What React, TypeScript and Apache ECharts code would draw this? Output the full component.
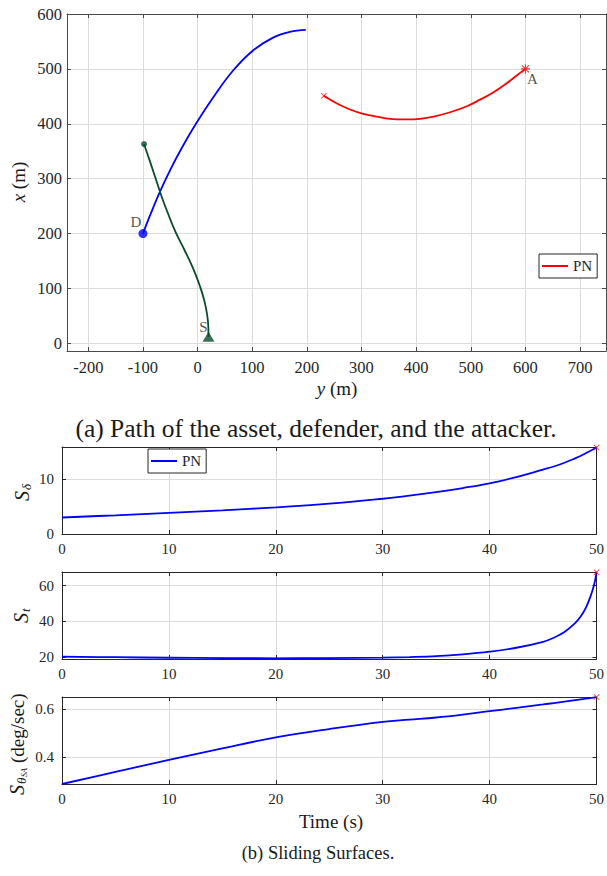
import React, { useEffect, useRef } from 'react';
import * as echarts from 'echarts';

// ---------- Top panel: horizontal axis is y (m), vertical axis is x (m) ----------
const defenderY = [-100, -85, -69, -50, -30, -3, 30, 65, 102, 139, 169, 198];
const defenderX = [200, 238, 276, 316, 354, 400, 450, 497, 534, 557.5, 567.5, 571];
const assetY = [20, 19, 13, 4, -8, -24, -40, -54, -66, -76, -87, -98];
const assetX = [12, 40, 75, 105, 136, 170, 202, 236, 268, 298, 331, 363];
const attackerY = [600, 584, 566, 541, 517, 493, 462, 432, 407, 380, 352, 328, 303, 279, 255, 231];
const attackerX = [500, 488, 474, 457, 444, 432, 421, 413, 409, 408, 409, 413, 418, 426, 437, 451];
const topHTicks = [-200, -100, 0, 100, 200, 300, 400, 500, 600, 700];
const topVTicks = [0, 100, 200, 300, 400, 500, 600];

// ---------- Bottom panels ----------
const time = [0, 5, 10, 15, 20, 25, 30, 32.5, 35, 37.5, 40, 42.5, 45, 46, 47, 48, 48.5, 49, 49.5, 49.8, 50];
const sDelta = [3.0, 3.4, 3.85, 4.3, 4.85, 5.5, 6.4, 6.95, 7.6, 8.35, 9.2, 10.35, 11.7, 12.26, 12.94, 13.74, 14.17, 14.66, 15.17, 15.48, 15.7];
const sT = [20.2, 19.9, 19.6, 19.4, 19.3, 19.4, 19.7, 20.0, 20.5, 21.5, 23.0, 25.2, 28.5, 30.8, 34, 39, 42.5, 47.5, 55, 61, 67.4];
const sTheta = [0.29, 0.34, 0.39, 0.438, 0.483, 0.518, 0.548, 0.557, 0.566, 0.578, 0.592, 0.606, 0.62, 0.626, 0.632, 0.638, 0.641, 0.644, 0.647, 0.649, 0.651];
const timeTicks = [0, 10, 20, 30, 40, 50];
const sDeltaTicks = [0, 10];
const sTTicks = [20, 40, 60];
const sThetaTicks = [0.4, 0.6];

const FONT = '"Liberation Serif", "Times New Roman", serif';
const TXT = '#262626';
const GRIDC = '#dcdcdc';

const zip = (a: number[], b: number[]) => a.map((v, i) => [v, b[i]]);

const CROSS = 'path://M0,1 L1,0 L5,4 L9,0 L10,1 L6,5 L10,9 L9,10 L5,6 L1,10 L0,9 L4,5 Z';
const STAR =
  'path://M4.4,0 L5.6,0 L5.6,10 L4.4,10 Z M0,4.4 L10,4.4 L10,5.6 L0,5.6 Z M0.8,1.6 L1.6,0.8 L9.2,8.4 L8.4,9.2 Z M8.4,0.8 L9.2,1.6 L1.6,9.2 L0.8,8.4 Z';

function axisPair(kind: 'x' | 'y', gridIndex: number, min: number, max: number, ticks: number[], size: number, margin: number, axisColor: string) {
  const base = {
    type: 'value',
    gridIndex,
    min,
    max,
    axisLine: { show: true, onZero: false, lineStyle: { color: axisColor, width: 1 } },
    axisTick: { show: true, inside: true, length: 4, customValues: ticks, lineStyle: { color: axisColor, width: 1 } },
  };
  const main = {
    ...base,
    position: kind === 'x' ? 'bottom' : 'left',
    axisLabel: { show: true, customValues: ticks, margin, fontFamily: FONT, fontSize: size, color: TXT, formatter: (v: number) => String(v) },
    splitLine: { show: true, lineStyle: { color: GRIDC, width: 1 } },
  };
  const other = {
    ...base,
    position: kind === 'x' ? 'top' : 'right',
    axisLabel: { show: false },
    splitLine: { show: false },
  };
  return [main, other];
}

function marker(name: string, xi: number, pt: number[], symbol: string, size: any, color: string, label?: string, offset?: number[]) {
  return {
    type: 'scatter',
    name,
    xAxisIndex: xi,
    yAxisIndex: xi,
    data: [pt],
    symbol,
    symbolSize: size,
    itemStyle: { color },
    clip: false,
    z: 5,
    label: label
      ? { show: true, formatter: label, position: 'inside', offset, fontFamily: FONT, fontSize: 15, color: TXT }
      : { show: false },
  };
}

function lineSeries(name: string, xi: number, data: number[][], color: string, width: number) {
  return {
    type: 'line',
    name,
    xAxisIndex: xi,
    yAxisIndex: xi,
    data,
    smooth: 0.4,
    showSymbol: false,
    symbol: 'none',
    clip: false,
    color,
    lineStyle: { color, width },
    z: 3,
  };
}

function legendOf(name: string, left: number, top: number) {
  return {
    data: [name],
    formatter: () => 'PN',
    left,
    top,
    icon: 'rect',
    itemWidth: 26,
    itemHeight: 2,
    padding: [4, 5, 4, 3],
    borderColor: TXT,
    borderWidth: 1,
    backgroundColor: '#fff',
    selectedMode: false,
    textStyle: { fontFamily: FONT, fontSize: 15, color: TXT, lineHeight: 16 },
  };
}

function rotGroup(x: number, y: number, children: any[]) {
  return { type: 'group', x, y, rotation: Math.PI / 2, children };
}
function t(x: number, y: number, text: string, size: number, italic: boolean, align = 'left') {
  return {
    type: 'text',
    x,
    y,
    style: {
      text,
      fontFamily: FONT,
      fontSize: size,
      fontStyle: italic ? 'italic' : 'normal',
      fill: '#1a1a1a',
      align,
      textAlign: align,
      verticalAlign: 'middle',
      textVerticalAlign: 'middle',
    },
  };
}

function richLabel(x: number, y: number, v: string, rotated: boolean) {
  return {
    type: 'text',
    x,
    y,
    rotation: rotated ? Math.PI / 2 : 0,
    style: {
      text: `{i|${v}} (m)`,
      rich: { i: { fontStyle: 'italic', fontFamily: FONT, fontSize: 19, fill: '#1a1a1a' } },
      fontFamily: FONT,
      fontSize: 19,
      fill: '#1a1a1a',
      align: 'center',
      textAlign: 'center',
      verticalAlign: 'middle',
      textVerticalAlign: 'middle',
    },
  };
}

export default function App() {
  const ref = useRef<HTMLDivElement>(null);
  useEffect(() => {
    if (!ref.current) return;
    const chart = echarts.init(ref.current, undefined, { renderer: 'svg' });
    const topAxisColor = '#4a4a4a';
    const botAxisColor = '#262626';
    const xAxes = [
      ...axisPair('x', 0, -239, 747.5, topHTicks, 16.5, 8, topAxisColor),
      ...axisPair('x', 1, 0, 50, timeTicks, 15, 7, botAxisColor),
      ...axisPair('x', 2, 0, 50, timeTicks, 15, 7, botAxisColor),
      ...axisPair('x', 3, 0, 50, timeTicks, 15, 7, botAxisColor),
    ];
    const yAxes = [
      ...axisPair('y', 0, -14, 600, topVTicks, 16.5, 5, topAxisColor),
      ...axisPair('y', 1, 0, 15.8, sDeltaTicks, 15, 8, botAxisColor),
      ...axisPair('y', 2, 18.9, 67.6, sTTicks, 15, 8, botAxisColor),
      ...axisPair('y', 3, 0.29, 0.651, sThetaTicks, 15, 8, botAxisColor),
    ];
    const attacker = zip(attackerY, attackerX);
    const defender = zip(defenderY, defenderX);
    const asset = zip(assetY, assetX);
    const n = time.length - 1;
    chart.setOption({
      animation: false,
      backgroundColor: '#fff',
      grid: [
        { left: 67, top: 14, width: 539, height: 337 },
        { left: 62, top: 447, width: 538, height: 87 },
        { left: 62, top: 572, width: 538, height: 87 },
        { left: 62, top: 697, width: 538, height: 87 },
      ],
      xAxis: xAxes,
      yAxis: yAxes,
      legend: [legendOf('PN_a', 539, 254), legendOf('PN_b', 148, 449)],
      series: [
        lineSeries('PN_a', 0, attacker, '#ff0000', 1.8),
        lineSeries('defender', 0, defender, '#0000ff', 1.8),
        lineSeries('asset', 0, asset, '#0b4a2b', 1.8),
        marker('D', 0, defender[0], 'circle', 9, '#0000ff', 'D', [-7, -12]),
        marker('S', 0, asset[0], 'triangle', [12, 10], '#0b4a2b', 'S', [-5, -10]),
        marker('assetEnd', 0, asset[asset.length - 1], 'circle', 6, '#0b4a2b'),
        marker('A', 0, attacker[0], STAR, 9, '#ff0000', 'A', [7, 10]),
        marker('attackerEnd', 0, attacker[attacker.length - 1], CROSS, 6, '#ff0000'),
        lineSeries('PN_b', 2, zip(time, sDelta), '#0000ff', 1.8),
        lineSeries('st', 4, zip(time, sT), '#0000ff', 1.8),
        lineSeries('stheta', 6, zip(time, sTheta), '#0000ff', 1.8),
        marker('e1', 2, [time[n], sDelta[n]], CROSS, 6, '#ff0000'),
        marker('e2', 4, [time[n], sT[n]], CROSS, 6, '#ff0000'),
        marker('e3', 6, [time[n], sTheta[n]], CROSS, 6, '#ff0000'),
      ],
      graphic: [
        richLabel(18, 182, 'x', true),
        richLabel(337, 388, 'y', false),
        t(316, 428, '(a) Path of the asset, defender, and the attacker.', 25.5, false, 'center'),
        rotGroup(22, 492, [t(-9, 0, 'S', 20, true), t(2, 4, 'δ', 13, true)]),
        rotGroup(21, 615, [t(-8, 0, 'S', 20, true), t(3, 4, 't', 13, true)]),
        rotGroup(17, 739, [
          t(-56, 0, 'S', 20, true),
          t(-45, 4, 'θ', 13, true),
          t(-38, 7, 'SA', 8, true),
          t(-24, 0, '(deg/sec)', 19, false),
        ]),
        t(331, 821, 'Time (s)', 19, false, 'center'),
        t(318, 853, '(b) Sliding Surfaces.', 18.5, false, 'center'),
      ],
    });
    return () => chart.dispose();
  }, []);
  return <div ref={ref} style={{ position: 'absolute', left: 0, top: 0, width: 607, height: 876 }} />;
}
